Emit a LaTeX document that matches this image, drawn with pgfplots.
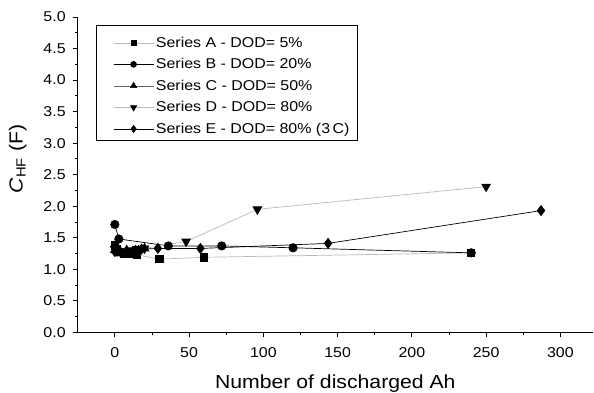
\documentclass[border=0pt]{standalone}
\usepackage{fontspec}
\setmainfont{Liberation Sans}[FakeStretch=1.12]
\usepackage{pgfplots}
\pgfplotsset{compat=1.18}
\begin{document}
\begin{tikzpicture}[x=1bp,y=1bp]
\begin{axis}[
  at={(0,0)}, anchor=south west,
  scale only axis, width=515.3bp, height=315.3bp,
  xmin=-25, xmax=322, ymin=0, ymax=5,
  axis lines*=left, axis line style={-, line width=1.1bp},
  tick align=outside, major tick length=5bp, minor tick length=3bp,
  every tick/.style={black, line width=0.9bp},
  xtick={0,50,...,300}, minor x tick num=1,
  ytick={0,0.5,...,5}, minor y tick num=1,
  /pgf/number format/assume math mode=true,
  ticklabel style={font=\fontsize{14.3}{16}\selectfont},
  yticklabel style={/pgf/number format/.cd, fixed, fixed zerofill, precision=1, /tikz/.cd, xshift=-3.5bp},
  xticklabel style={anchor=base, yshift=-20bp},
  xlabel={Number of discharged Ah},
  xlabel style={font=\fontsize{19}{22}\selectfont, at={(axis description cs:0.5,-0.178)}, anchor=base},
  ylabel={\textit{C}\textsubscript{HF} (F)},
  ylabel style={font=\fontsize{19}{22}\selectfont, at={(axis description cs:-0.1165,0.55)}, anchor=center},
  legend style={at={(axis description cs:0.035,0.975)}, anchor=north west,
    draw=black, line width=1bp, font=\fontsize{14.3}{16}\selectfont,
    inner xsep=6bp, inner ysep=4bp, row sep=0.5bp,
    nodes={inner ysep=0bp, text height=17.9bp, text depth=3.1bp}},
  legend cell align=left,
  legend image code/.code={\path (0bp,0bp); \draw[mark repeat=2,mark phase=2,every mark/.append style={scale=0.7}] plot coordinates {(11bp,-3bp) (31bp,-3bp) (51bp,-3bp)};},
]
\addplot[color=gray!55, line width=0.7bp, mark=square*, mark size=3.6bp, mark options={fill=black, draw=black}]
  coordinates {(0,1.38) (1,1.32) (3,1.27) (6,1.24) (10,1.24) (15,1.23) (30,1.16) (60,1.19) (240,1.26)};
\addlegendentry{Series A - DOD= 5\%}
\addplot[color=black, line width=0.7bp, mark=*, mark size=4.2bp, mark options={fill=black, draw=black}]
  coordinates {(0,1.71) (2.7,1.48) (36,1.37) (72,1.37) (120,1.34) (240,1.26)};
\addlegendentry{Series B - DOD= 20\%}
\addplot[color=gray!80!black, line width=0.7bp, mark=triangle*, mark size=5bp, mark options={fill=black, draw=black}]
  coordinates {(0,1.30) (2,1.27) (4,1.25) (8,1.30) (12,1.28) (16,1.30) (20,1.33)};
\addlegendentry{Series C - DOD= 50\%}
\addplot[color=gray!55, line width=0.7bp, mark=triangle*, mark size=5bp, mark options={fill=black, draw=black, rotate=180}]
  coordinates {(0,1.32) (4,1.27) (10,1.30) (15,1.32) (20,1.33) (48,1.44) (96,1.95) (250,2.31)};
\addlegendentry{Series D - DOD= 80\%}
\addplot[color=black, line width=0.7bp, mark=diamond*, mark size=5bp, mark options={fill=black, draw=black}]
  coordinates {(0,1.28) (3,1.30) (8,1.27) (14,1.30) (18,1.32) (29,1.33) (57.6,1.33) (143.6,1.41) (287,1.93)};
\addlegendentry{Series E - DOD= 80\% (3\,C)}
\end{axis}
\pgfresetboundingbox
\path (-77.7,-59.7) rectangle (516.3,332.3);
\end{tikzpicture}
\end{document}
